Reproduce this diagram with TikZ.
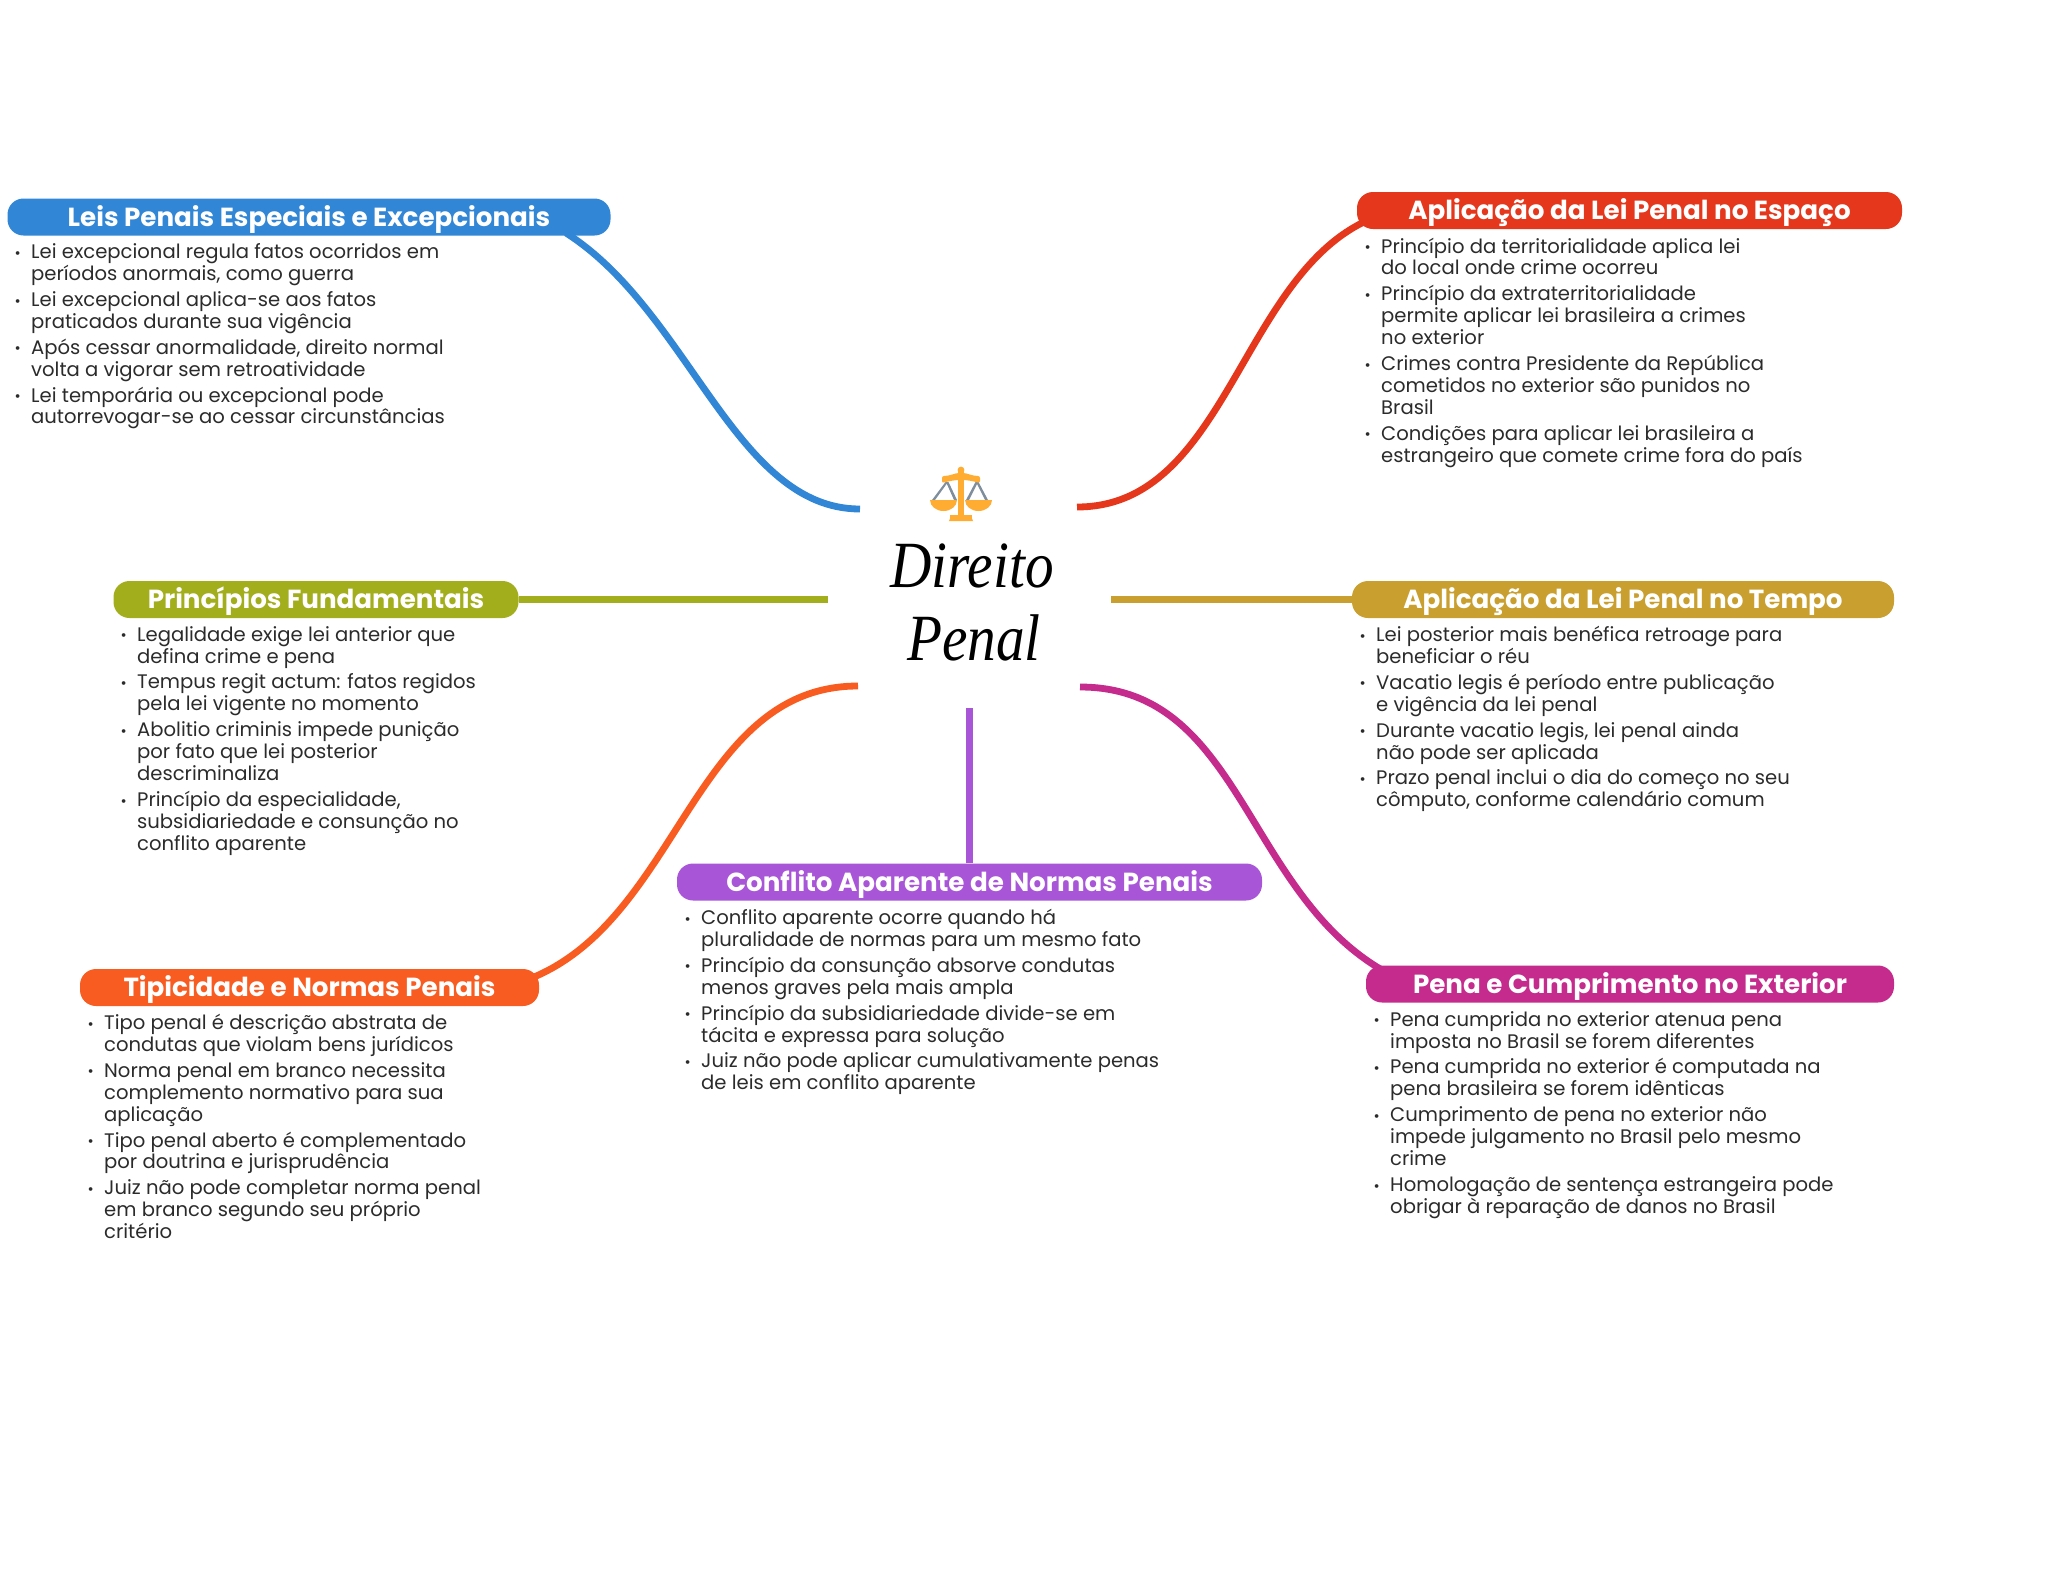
\documentclass[tikz,border=0pt]{standalone}
\usepackage{fontspec}
\setmainfont{Poppins}
\newfontfamily\titlefont{Liberation Serif}
\usetikzlibrary{backgrounds}
\definecolor{cblue}{HTML}{3186D6}
\definecolor{cred}{HTML}{E5371B}
\definecolor{colive}{HTML}{A3AE1D}
\definecolor{cgold}{HTML}{C9A02F}
\definecolor{corange}{HTML}{F95C20}
\definecolor{cmag}{HTML}{C42B8D}
\definecolor{cpurple}{HTML}{A855D8}
\definecolor{ctext}{HTML}{2B2B2B}
\definecolor{cscale}{HTML}{FFAC33}
\definecolor{cstring}{HTML}{7F8E9C}
\newcommand{\bul}{\leavevmode\llap{\raisebox{0.02em}{\fontsize{15}{15}\selectfont •}\hspace{10.5pt}}}
\newcommand{\gapline}{\\[4pt]}
\newcommand{\hd}[1]{\raisebox{-9pt}[0pt][0pt]{#1}}
\newcommand{\ttl}[1]{\scalebox{0.867}[1]{#1}}
\tikzset{
 x=1pt,y=-1pt,
 topicbox/.style={rounded corners=16pt,inner sep=0pt,minimum height=37pt,text=white,
   font=\fontsize{26.15}{30}\selectfont\bfseries},
 bodytext/.style={anchor=north west,inner sep=0pt,align=left,text=ctext,
   font=\fontsize{19.6}{21.9}\selectfont},
 conn/.style={line width=6.8pt},
 titletext/.style={font=\titlefont\itshape\fontsize{66}{66}\selectfont,text=black,inner sep=0pt,anchor=base},
}
\begin{document}
\begin{tikzpicture}
\useasboundingbox (0,0) rectangle (2048,1569);
% hub
\node[inner sep=0pt,minimum width=217pt,minimum height=178pt] (hub) at (969,598) {};
\coordinate (hubNW) at (860,509);
\coordinate (hubNE) at (1077,507);
\coordinate (hubSW) at (858,686);
\coordinate (hubSE) at (1080,687);
\coordinate (hubW) at (828,599.5);
\coordinate (hubE) at (1111,599.5);
\coordinate (hubS) at (969.5,708);
\node[titletext] (t1) at (972,587) {\ttl{Direito}};
\node[titletext] (t2) at (974,660) {\ttl{Penal}};
% scale icon
\fill[cstring] (946,482) -- (948.5,482) -- (957,500) -- (954,500) -- cycle;
\fill[cstring] (945.5,482) -- (948,482) -- (935,500) -- (932,500) -- cycle;
\fill[cstring] (976,482) -- (978.5,482) -- (988,500) -- (985,500) -- cycle;
\fill[cstring] (975.5,482) -- (978,482) -- (969,500) -- (966,500) -- cycle;
\fill[cscale] (930,500) -- (957,500) arc[start angle=0,end angle=180,x radius=13.5pt,y radius=-11pt] -- cycle;
\fill[cscale] (965,500) -- (992,500) arc[start angle=0,end angle=180,x radius=13.5pt,y radius=-11pt] -- cycle;
\fill[cscale,rounded corners=2pt] (942,476) .. controls (950,476) and (955,473) .. (961,473) .. controls (967,473) and (972,476) .. (980,476) -- (980,483) .. controls (972,481) and (967,480) .. (961,480) .. controls (955,480) and (950,481) .. (942,483) -- cycle;
\fill[cscale] (958,470) rectangle (964,516);
\fill[cscale] (961,470) circle[radius=3.4pt];
\fill[cscale] (949,521) arc[start angle=180,end angle=360,x radius=12pt,y radius=-6pt] -- cycle;
\fill[cscale] (950,515) rectangle (972,521);
% boxes
\node[topicbox,fill=cblue,minimum width=603pt] (leis) at (309,217) {\hd{Leis Penais Especiais e Excepcionais}};
\node[topicbox,fill=cred,minimum width=545pt] (espaco) at (1629.5,210.5) {\hd{Aplicação da Lei Penal no Espaço}};
\node[topicbox,fill=colive,minimum width=405pt] (princ) at (316,599.5) {\hd{Princípios Fundamentais}};
\node[topicbox,fill=cgold,minimum width=542pt] (tempo) at (1623,599.5) {\hd{Aplicação da Lei Penal no Tempo}};
\node[topicbox,fill=corange,minimum width=459pt] (tipic) at (309.5,987.5) {\hd{Tipicidade e Normas Penais}};
\node[topicbox,fill=cpurple,minimum width=585pt] (confl) at (969.5,882) {\hd{Conflito Aparente de Normas Penais}};
\node[topicbox,fill=cmag,minimum width=528pt] (penab) at (1630,984) {\hd{Pena e Cumprimento no Exterior}};
\coordinate (leisEnd) at (566,233);
\coordinate (espacoEnd) at (1366,221);
\coordinate (tipicEnd) at (534,977);
\coordinate (penaEnd) at (1382,970);
% connectors
\begin{scope}[on background layer]
\draw[conn,cblue] (hubNW) .. controls (735,509) and (690,312) .. (leisEnd);
\draw[conn,cred] (hubNE) .. controls (1225,507) and (1240,280) .. (espacoEnd);
\draw[conn,colive] (princ.east) -- (hubW);
\draw[conn,cgold] (tempo.west) -- (hubE);
\draw[conn,corange] (hubSW) .. controls (695,686) and (680,915) .. (tipicEnd);
\draw[conn,cmag] (hubSE) .. controls (1240,687) and (1245,890) .. (penaEnd);
\draw[conn,cpurple] (confl.north) -- (hubS);
\end{scope}
% bodies
\node[bodytext] (b1) at (31,243.5) {\bul Lei excepcional regula fatos ocorridos em\\períodos anormais, como guerra\gapline
\bul Lei excepcional aplica-se aos fatos\\praticados durante sua vigência\gapline
\bul Após cessar anormalidade, direito normal\\volta a vigorar sem retroatividade\gapline
\bul Lei temporária ou excepcional pode\\autorrevogar-se ao cessar circunstâncias};
\node[bodytext] (b2) at (1381,237.5) {\bul Princípio da territorialidade aplica lei\\do local onde crime ocorreu\gapline
\bul Princípio da extraterritorialidade\\permite aplicar lei brasileira a crimes\\no exterior\gapline
\bul Crimes contra Presidente da República\\cometidos no exterior são punidos no\\Brasil\gapline
\bul Condições para aplicar lei brasileira a\\estrangeiro que comete crime fora do país};
\node[bodytext] (b3) at (137,626) {\bul Legalidade exige lei anterior que\\defina crime e pena\gapline
\bul Tempus regit actum: fatos regidos\\pela lei vigente no momento\gapline
\bul Abolitio criminis impede punição\\por fato que lei posterior\\descriminaliza\gapline
\bul Princípio da especialidade,\\subsidiariedade e consunção no\\conflito aparente};
\node[bodytext] (b4) at (1376,626) {\bul Lei posterior mais benéfica retroage para\\beneficiar o réu\gapline
\bul Vacatio legis é período entre publicação\\e vigência da lei penal\gapline
\bul Durante vacatio legis, lei penal ainda\\não pode ser aplicada\gapline
\bul Prazo penal inclui o dia do começo no seu\\cômputo, conforme calendário comum};
\node[bodytext] (b5) at (104,1014) {\bul Tipo penal é descrição abstrata de\\condutas que violam bens jurídicos\gapline
\bul Norma penal em branco necessita\\complemento normativo para sua\\aplicação\gapline
\bul Tipo penal aberto é complementado\\por doutrina e jurisprudência\gapline
\bul Juiz não pode completar norma penal\\em branco segundo seu próprio\\critério};
\node[bodytext] (b6) at (701,909) {\bul Conflito aparente ocorre quando há\\pluralidade de normas para um mesmo fato\gapline
\bul Princípio da consunção absorve condutas\\menos graves pela mais ampla\gapline
\bul Princípio da subsidiariedade divide-se em\\tácita e expressa para solução\gapline
\bul Juiz não pode aplicar cumulativamente penas\\de leis em conflito aparente};
\node[bodytext] (b7) at (1390,1011) {\bul Pena cumprida no exterior atenua pena\\imposta no Brasil se forem diferentes\gapline
\bul Pena cumprida no exterior é computada na\\pena brasileira se forem idênticas\gapline
\bul Cumprimento de pena no exterior não\\impede julgamento no Brasil pelo mesmo\\crime\gapline
\bul Homologação de sentença estrangeira pode\\obrigar à reparação de danos no Brasil};
\end{tikzpicture}
\end{document}
